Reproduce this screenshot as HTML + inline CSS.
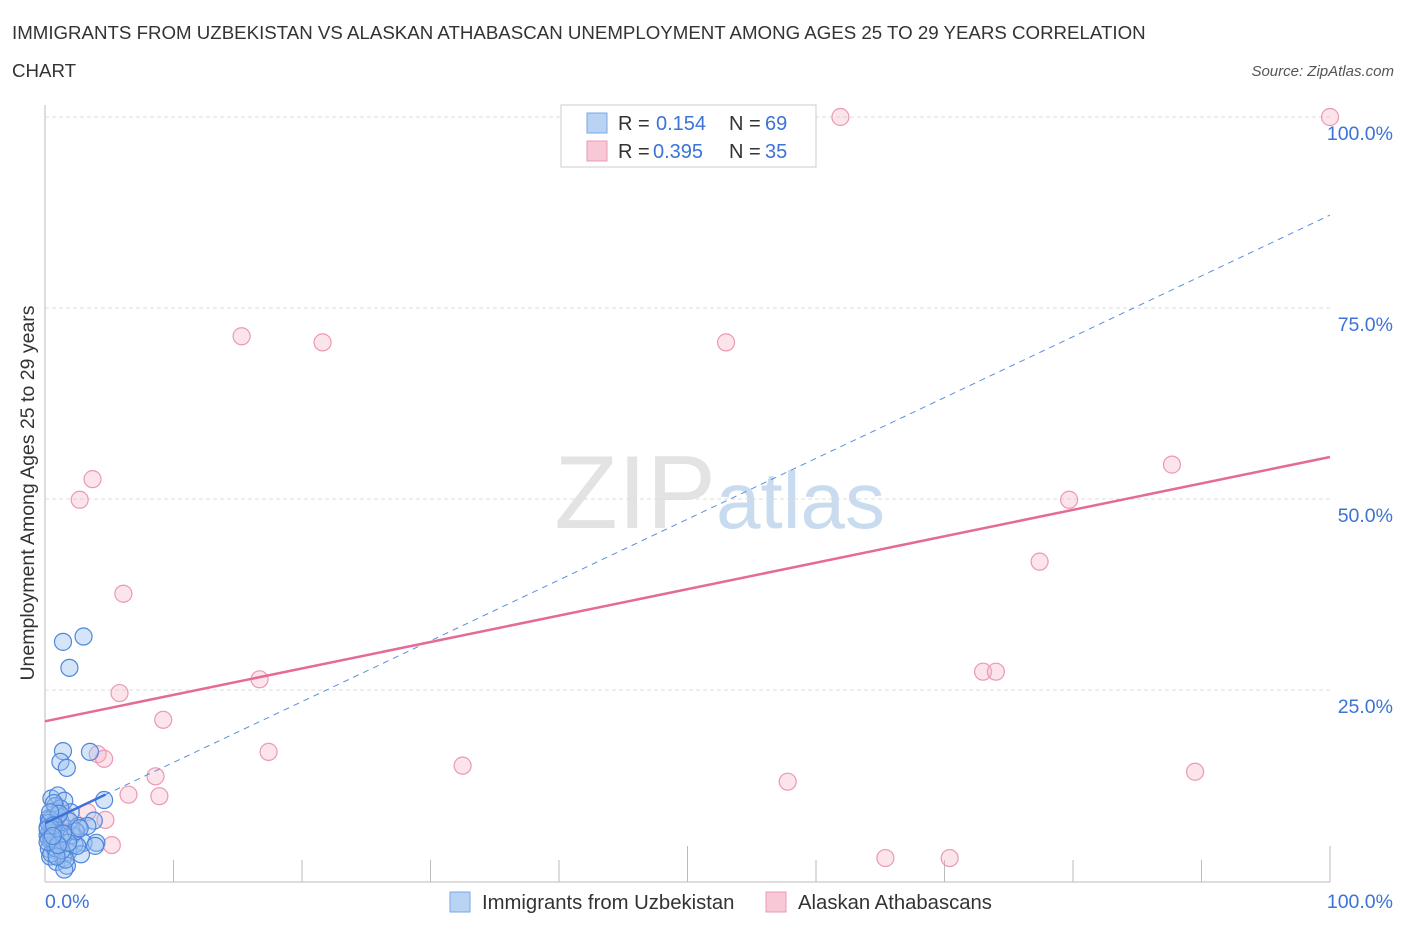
<!DOCTYPE html>
<html><head><meta charset="utf-8"><style>
body{margin:0;background:#fff;font-family:"Liberation Sans",sans-serif;}
svg text{font-family:"Liberation Sans",sans-serif;}
</style></head><body>
<svg id="c" width="1406" height="930">
<text x="12" y="39" font-size="18.7" fill="#333">IMMIGRANTS FROM UZBEKISTAN VS ALASKAN ATHABASCAN UNEMPLOYMENT AMONG AGES 25 TO 29 YEARS CORRELATION</text>
<text x="12" y="77" font-size="18.7" fill="#333">CHART</text>
<text x="1394" y="76" font-size="15" fill="#555" font-style="italic" text-anchor="end">Source: ZipAtlas.com</text>
<text x="34" y="493" font-size="19.5" fill="#333" text-anchor="middle" transform="rotate(-90 34 493)">Unemployment Among Ages 25 to 29 years</text>
<text x="716" y="528" font-size="104" fill="#e3e3e3" text-anchor="end" font-family="Liberation Serif">ZIP</text>
<text x="716" y="528" font-size="80" fill="#c9dcef">atlas</text>
<g id="grid"></g><g id="marks"></g>
<g>
<rect x="561" y="105" width="255" height="62" fill="#fff" stroke="#ccc"/>
<rect x="587" y="113" width="20" height="20" fill="#b9d3f5" stroke="#7aa7e6"/>
<text x="618" y="130" font-size="20" fill="#333">R =</text>
<text x="656" y="130" font-size="20" fill="#3b73d6">0.154</text>
<text x="729" y="130" font-size="20" fill="#333">N =</text>
<text x="765" y="130" font-size="20" fill="#3b73d6">69</text>
<rect x="587" y="141" width="20" height="20" fill="#f8c8d6" stroke="#eb9ab4"/>
<text x="618" y="158" font-size="20" fill="#333">R =</text>
<text x="653" y="158" font-size="20" fill="#3b73d6">0.395</text>
<text x="729" y="158" font-size="20" fill="#333">N =</text>
<text x="765" y="158" font-size="20" fill="#3b73d6">35</text>
</g>
<g>
<rect x="450" y="892" width="20" height="20" fill="#b9d3f5" stroke="#7aa7e6"/>
<text x="482" y="909" font-size="20.3" fill="#333">Immigrants from Uzbekistan</text>
<rect x="766" y="892" width="20" height="20" fill="#f8c8d6" stroke="#eb9ab4"/>
<text x="798" y="909" font-size="20.3" fill="#333">Alaskan Athabascans</text>
</g>
</svg>
<script>
const yTicks=[25,50,75,100];
const xTickLabels=["0.0%","100.0%"];
const blueX=[3,1.4,1.9,1.4,3.5,1.2,1.7,0.5,1.0,1.5,0.8,4.6,3.8,0.3,0.6,1.2,2.0,2.6,0.4,0.9,1.6,0.2,0.7,1.3,3.0,2.3,0.5,1.1,0.3,0.8,1.8,2.8,4.0,0.4,1.4,0.6,0.2,1.0,2.1,3.3,0.9,0.5,1.7,0.3,2.5,1.2,0.7,0.4,1.9,0.6,1.5,0.8,0.3,1.1,0.2,2.4,1.6,0.5,1.3,0.9,0.4,1.8,3.9,2.7,0.7,1.4,0.2,1.0,0.6];
const blueY=[32,31.3,27.9,17,16.9,15.6,14.8,10.8,11.2,10.5,9.8,10.6,7.9,8.2,7.5,7.8,9.0,7.2,6.5,6.8,6.2,6.0,5.8,5.5,5.0,4.8,5.2,4.5,4.2,4.0,3.8,3.5,5.0,3.2,3.0,6.6,7.0,8.5,6.0,7.2,2.5,3.6,2.0,5.5,4.6,9.5,10.2,8.0,7.8,6.3,1.5,4.3,7.6,8.8,6.8,6.5,2.8,5.6,4.0,3.2,9.0,5.0,4.6,6.9,7.3,6.2,5.1,4.7,5.9];
const pinkX=[61.9,100,15.3,21.6,53,3.7,2.7,87.7,79.7,77.4,6.1,73,74,16.7,5.8,9.2,17.4,4.1,4.6,32.5,89.5,8.6,57.8,6.5,8.9,65.4,70.4,5.2,3.3,0.8,1.2,2.3,0.4,1.6,4.7];
const pinkY=[100,100,71.3,70.5,70.5,52.6,49.9,54.5,49.9,41.8,37.6,27.4,27.4,26.4,24.6,21.1,16.9,16.6,16,15.1,14.3,13.7,13,11.3,11.1,3,3,4.7,9,9.3,7.3,6.7,6,8.6,8];
const blueFit=[7.56,0.796];
const pinkFit=[20.9,0.346];
const X=v=>45+v*12.85, Y=v=>881-v*7.64;
const NS="http://www.w3.org/2000/svg";
const grid=document.getElementById('grid'), marks=document.getElementById('marks');
function mk(tag,attrs,parent){const e=document.createElementNS(NS,tag);for(const k in attrs)e.setAttribute(k,attrs[k]);parent.appendChild(e);return e;}
let ax=mk('line',{x1:45,y1:105,x2:45,y2:882,stroke:'#bbb'},grid);


let bx=mk('line',{x1:45,y1:882,x2:1330,y2:882,stroke:'#bbb'},grid);


for(let i=1;i<=10;i++){let t=mk('line',{x1:X(i*10),y1:882,x2:X(i*10),y2:i==5||i==10?846:860,stroke:'#bbb'},grid);

}
yTicks.forEach(v=>{let g=mk('line',{x1:45,y1:Y(v),x2:1330,y2:Y(v),stroke:'#ddd','stroke-dasharray':'4 3'},grid);


let t=mk('text',{x:1393,y:Y(v)+23,'font-size':19.5,fill:'#3b73d6','text-anchor':'end'},grid);t.textContent=v.toFixed(1)+'%';

});
[[45,'start'],[1393,'end']].forEach((p,i)=>{let t=mk('text',{x:p[0],y:908,'font-size':19.5,fill:'#3b73d6','text-anchor':p[1]},grid);t.textContent=xTickLabels[i];

});
pinkX.forEach((x,i)=>{let c=mk('circle',{cx:X(x),cy:Y(pinkY[i]),r:8.5,fill:'rgba(246,177,199,0.35)',stroke:'#ec98b3','stroke-width':1.2},marks);

});
blueX.forEach((x,i)=>{let c=mk('circle',{cx:X(x),cy:Y(blueY[i]),r:8.5,fill:'rgba(150,190,240,0.4)',stroke:'#4f86db','stroke-width':1.2},marks);

});
let bd=mk('line',{x1:X(0),y1:Y(blueFit[0]),x2:X(100),y2:Y(blueFit[0]+100*blueFit[1]),stroke:'#5b8fdc','stroke-dasharray':'6 5','stroke-width':1},marks);


let bs=mk('line',{x1:X(0),y1:Y(blueFit[0]),x2:X(4.7),y2:Y(blueFit[0]+4.7*blueFit[1]),stroke:'#3b73d6','stroke-width':2.5},marks);


let pl=mk('line',{x1:X(0),y1:Y(pinkFit[0]),x2:X(100),y2:Y(pinkFit[0]+100*pinkFit[1]),stroke:'#e56a96','stroke-width':2.5},marks);


</script>
</body></html>
